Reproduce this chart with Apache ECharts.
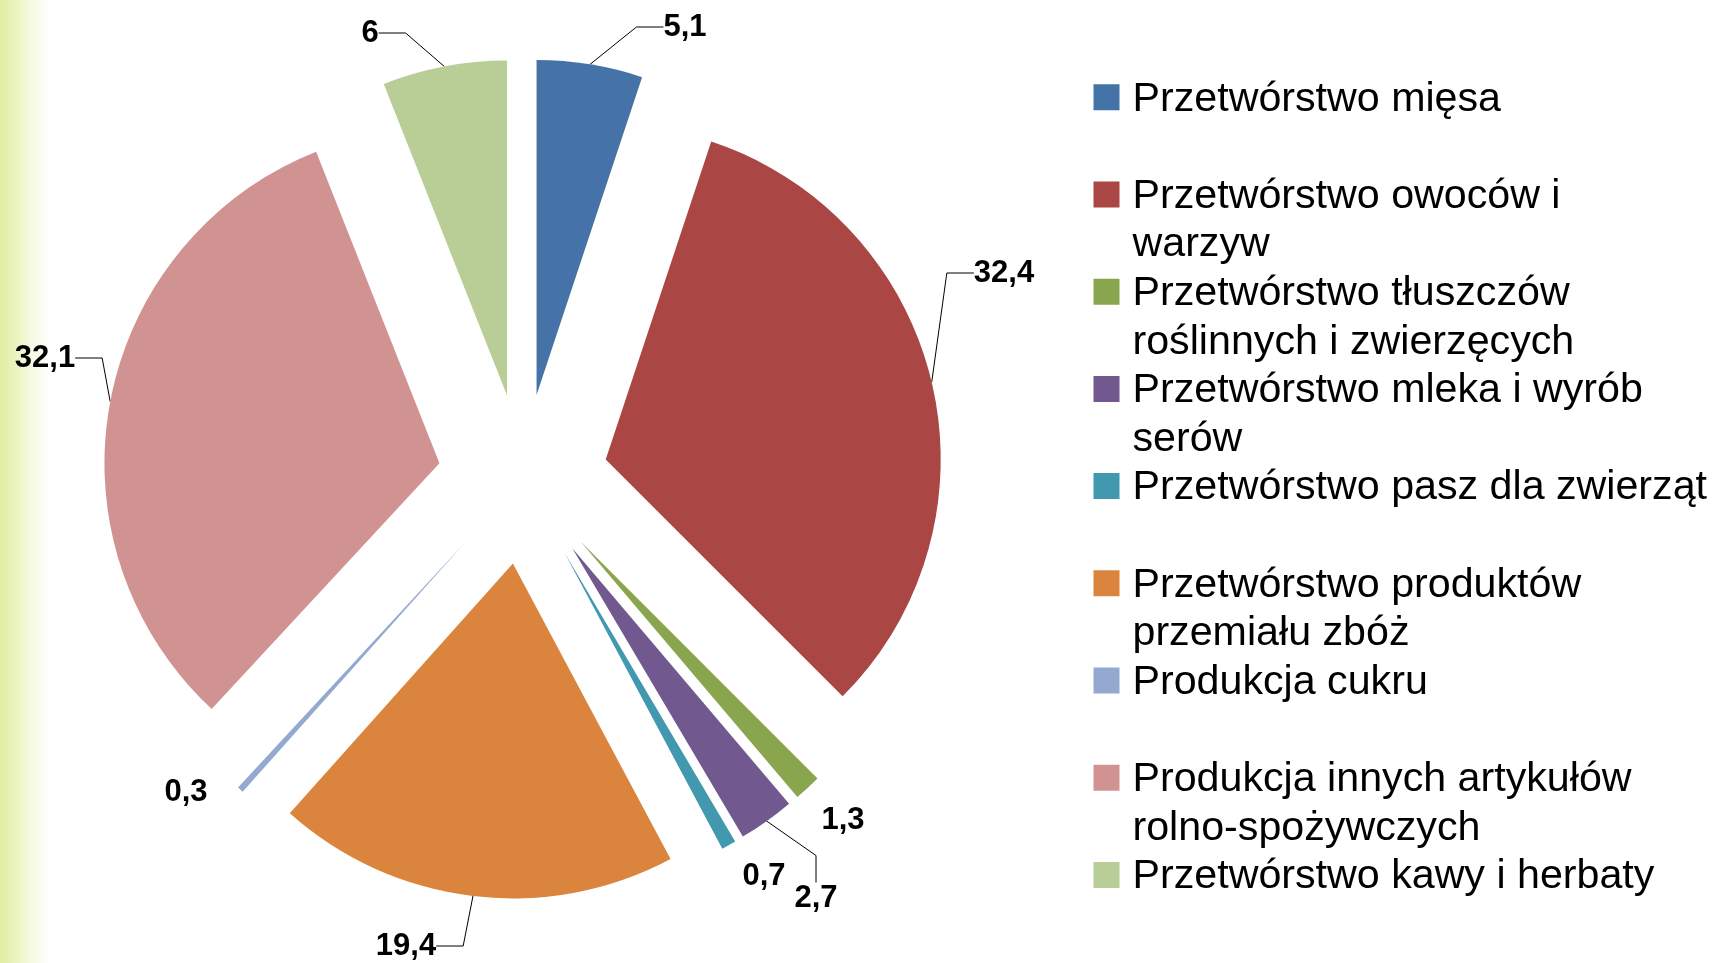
<!DOCTYPE html>
<html>
  <head>
    <meta charset="utf-8">
    <title></title>
    <style media="screen">
    html, body { margin:0; padding:0; }
    .box{
       width: 1713px;
       height: 963px;
       background: linear-gradient(to right, #e2ed9f 0px, #eaf3bd 15px, #f6fae3 32px, #ffffff 50px);
    }
    </style>
    <script src="https://cdn.jsdelivr.net/npm/echarts@6/dist/echarts.min.js" charset="utf-8"></script>
    <script>
    // data
    let names = [
      'Przetwórstwo mięsa',
      'Przetwórstwo owoców i\nwarzyw',
      'Przetwórstwo tłuszczów\nroślinnych i zwierzęcych',
      'Przetwórstwo mleka i wyrób\nserów',
      'Przetwórstwo pasz dla zwierząt',
      'Przetwórstwo produktów\nprzemiału zbóż',
      'Produkcja cukru',
      'Produkcja innych artykułów\nrolno-spożywczych',
      'Przetwórstwo kawy i herbaty'
    ];
    let values = [5.1, 32.4, 1.3, 2.7, 0.7, 19.4, 0.3, 32.1, 6];
    let colors = ['#4572a7', '#aa4643', '#89a54e', '#71588f', '#4198af', '#db843d', '#93a9cf', '#d19392', '#b9cd96'];

    // where the value labels sit (label centre), which ones have no leader line,
    // and which leader line has to come in from the label's left side
    let labelPos = [[685, 27], [1004, 273], [843, 820], [816, 898], [764, 876], [406, 946], [186, 792], [45, 358], [370, 33]];
    let noLine = [false, false, true, false, true, false, true, false, false];
    let fromLeft = [false, true, false, false, false, false, false, false, false];

    window.onload = function(){
      let chart = echarts.init(document.querySelector('.box'));

      let center = [523, 479];
      let r = 335, offset = 85, len2 = 27;

      let option = {
        animation: false,
        legend: {
          orient: 'vertical',
          left: 1088.5,
          top: 70,
          itemWidth: 34,
          itemHeight: 97.2,
          itemGap: 0,
          selectedMode: false,
          // square sits at the top of a tall, mostly empty icon box so it lines up with the first text line
          icon: 'path://M0,0L0.01,0L0,0.01Z M34,97.2L33.99,97.2L34,97.19Z M0,9.3L26,9.3L26,35.3L0,35.3Z',
          itemStyle: { borderWidth: 0 },
          textStyle: {
            fontFamily: 'Liberation Sans',
            fontSize: 41.2,
            lineHeight: 48.6,
            color: '#000'
          },
          formatter: function(name){
            return name.indexOf('\n') < 0 ? name + '\n ' : name;
          },
          data: names
        },
        series: [
          {
            // the exploded slices
            type: 'pie',
            center: center,
            radius: r,
            startAngle: 90,
            clockwise: true,
            selectedMode: 'multiple',
            selectedOffset: offset,
            emphasis: { disabled: true },
            itemStyle: { borderWidth: 0 },
            label: { show: false },
            labelLine: { show: false },
            data: names.map((n, i) => ({
              name: n,
              value: values[i],
              selected: true,
              itemStyle: { color: colors[i] },
              select: { itemStyle: { color: colors[i], borderWidth: 0 } }
            }))
          },
          {
            // same values, invisible, only carries the value labels
            type: 'pie',
            center: center,
            radius: r + offset,
            startAngle: 90,
            clockwise: true,
            silent: true,
            emphasis: { disabled: true },
            itemStyle: { color: 'rgba(0,0,0,0)', borderWidth: 0 },
            label: {
              show: true,
              position: 'outside',
              overflow: 'none',
              fontFamily: 'Liberation Sans',
              fontWeight: 'bold',
              fontSize: 31,
              color: '#000',
              formatter: function(p){ return String(p.value).replace('.', ','); }
            },
            labelLine: {
              show: true,
              length: 0,
              length2: len2,
              lineStyle: { color: '#000', width: 1 }
            },
            labelLayout: function(p){
              let x = labelPos[p.dataIndex][0], y = labelPos[p.dataIndex][1];
              let out = { x: x, y: y, align: 'center', verticalAlign: 'middle' };
              if (fromLeft[p.dataIndex] && p.labelLinePoints) {
                let lx = x - p.labelRect.width / 2;
                out.labelLinePoints = [p.labelLinePoints[0], [lx - len2, y], [lx, y]];
              }
              return out;
            },
            data: names.map((n, i) => ({
              name: n,
              value: values[i],
              labelLine: { show: !noLine[i] }
            }))
          }
        ]
      };

      chart.setOption(option);
    }
    </script>
  </head>
  <body>
    <div class="box"></div>
  </body>
</html>
